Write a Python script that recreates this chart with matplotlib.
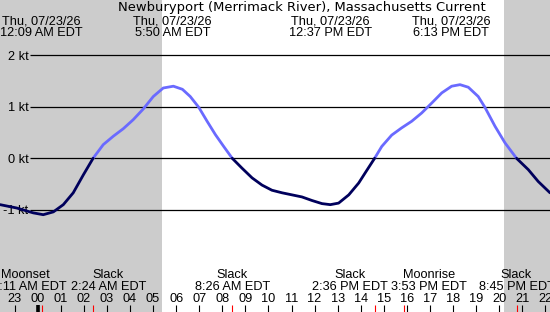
import numpy as np
import matplotlib
matplotlib.use("Agg")
import matplotlib.pyplot as plt

# ===============================
# Data (hours from midnight, Thu 07/23/26, EDT)
# ===============================
hours = [-1.63, -0.91, -0.19, 0.24, 0.68, 1.11, 1.54, 1.98, 2.40, 2.84,
         3.28, 3.71, 4.14, 4.58, 5.01, 5.44, 5.88, 6.27, 6.61, 6.98,
         7.34, 7.70, 8.06, 8.43, 8.85, 9.29, 9.72, 10.15, 10.59, 11.02,
         11.45, 11.89, 12.32, 12.68, 13.04, 13.48, 13.91, 14.21, 14.60, 14.91,
         15.34, 15.77, 16.21, 16.64, 17.07, 17.51, 17.94, 18.30, 18.66, 19.09,
         19.38, 19.82, 20.25, 20.75, 21.26, 21.69, 22.20]
knots = [-0.90, -0.965, -1.06, -1.095, -1.04, -0.90, -0.67, -0.32, 0.0, 0.265,
         0.43, 0.575, 0.75, 0.96, 1.20, 1.365, 1.40, 1.34, 1.20, 0.99,
         0.72, 0.46, 0.23, 0.0, -0.19, -0.38, -0.52, -0.62, -0.67, -0.71,
         -0.75, -0.82, -0.88, -0.90, -0.87, -0.71, -0.48, -0.27, 0.0, 0.23,
         0.45, 0.59, 0.72, 0.88, 1.07, 1.27, 1.40, 1.43, 1.38, 1.20,
         0.99, 0.62, 0.30, 0.0, -0.22, -0.45, -0.67]

sunrise = 5.40
sunset = 20.21

# max current events (top labels)
max_hours = [0.15, 5.833, 12.617, 18.217]
max_times = ["12:09 AM EDT", "5:50 AM EDT", "12:37 PM EDT", "6:13 PM EDT"]
max_date = "Thu, 07/23/26"
max_shift = [0, 0, 0.06, -0.3]

# bottom events
ev_hours = [0.183, 2.40, 8.433, 14.60, 15.883, 20.75]
ev_names = ["Moonset", "Slack", "Slack", "Slack", "Moonrise", "Slack"]
ev_times = ["12:11 AM EDT", "2:24 AM EDT", "8:26 AM EDT", "2:36 PM EDT",
            "3:53 PM EDT", "8:45 PM EDT"]
ev_shift = [-0.71, 0.66, 0, -1.06, 1.06, 0]

hour_ticks = list(range(-1, 23))
hour_labels = ["%02d" % (h % 24) for h in hour_ticks]

kt_levels = [-1, 0, 1, 2]
title = "Newburyport (Merrimack River), Massachusetts Current"

# ===============================
# Layout helpers (pixel -> data)
# ===============================
W, H = 550, 312
PX_H = 23.076      # pixels per hour
ZERO_X = 37.7      # pixel of 00:00
PX_KT = 51.5       # pixels per knot
ZERO_Y = 158.3     # pixel row of 0 kt

x0 = -ZERO_X / PX_H
x1 = x0 + W / PX_H


def px(x):
    return x0 + x / PX_H


def py(y):
    return (ZERO_Y - y) / PX_KT


plt.rcParams['font.family'] = ['Liberation Sans', 'DejaVu Sans']
FS = 9.15

fig = plt.figure(figsize=(W / 100, H / 100), dpi=100)
ax = fig.add_axes([0, 0, 1, 1])
ax.axis('off')
ax.set_xlim(x0, x1)
ax.set_ylim(py(H), py(0))

# night shading
ax.axvspan(x0, sunrise, color='#cccccc', lw=0, zorder=0)
ax.axvspan(sunset, x1, color='#cccccc', lw=0, zorder=0)

# grid lines + labels
ax.hlines(kt_levels, px(30), x1, color='black', lw=0.9, zorder=1)
for k in kt_levels:
    ax.text(px(28.5), k - 4.5 / PX_KT, "%d kt" % k, ha='right', va='baseline',
            fontsize=FS, zorder=1)

# current curve
h = np.array(hours)
v = np.array(knots)
ax.plot(h, np.where(v >= 0, v, np.nan), color='#6a6aff', lw=2.0,
        solid_capstyle='round', solid_joinstyle='round', zorder=3)
ax.plot(h, np.where(v <= 0, v, np.nan), color='#00005c', lw=2.0,
        solid_capstyle='round', solid_joinstyle='round', zorder=3)

# title and max labels
ax.text(px(302), py(11), title, ha='center', va='baseline', fontsize=9.45,
        family=['DejaVu Sans'])
for mh, mt, ms in zip(max_hours, max_times, max_shift):
    ax.text(mh + ms, py(24), max_date, ha='center', va='baseline', fontsize=FS)
    ax.text(mh + ms, py(35.7), mt, ha='center', va='baseline', fontsize=FS)

# hour ticks
ax.vlines(hour_ticks, py(305), py(312), color='black', lw=0.8, zorder=2)
ax.vlines([0], py(305), py(312), color='black', lw=2.6, zorder=2)
ax.vlines(ev_hours, py(305), py(312), color='red', lw=0.8, zorder=2)
for t, lab in zip(hour_ticks, hour_labels):
    ax.text(t, py(302), lab, ha='center', va='baseline', fontsize=FS)

# event labels
for eh, en, et, es in zip(ev_hours, ev_names, ev_times, ev_shift):
    ax.text(eh + es, py(278.3), en, ha='center', va='baseline', fontsize=FS)
    ax.text(eh + es, py(290.3), et, ha='center', va='baseline', fontsize=FS)

fig.savefig("out.png", dpi=100)
plt.close(fig)
